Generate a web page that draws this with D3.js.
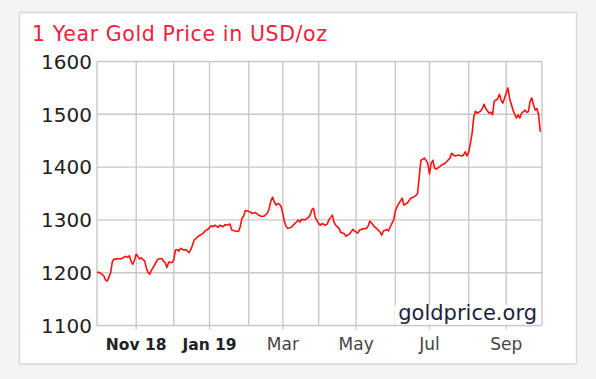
<!DOCTYPE html>
<html><head><meta charset="utf-8">
<script src="https://cdn.jsdelivr.net/npm/d3@7"></script>
<style>
html,body{margin:0;padding:0;background:#f4f4f4;}
svg{display:block;font-family:"DejaVu Sans",Verdana,sans-serif;}
</style></head><body>
<svg id="c" width="596" height="379"></svg>
<script>
// trading-day offset from 1 Oct 2018 and gold price (USD/oz)
const tradingDay = [0,1,2,4,5,6,7,8,9,10,11,12,14,15,17,18,19,20,21,22,23,24,25,26,28,29,30,31,32,34,35,36,38,39,40,41,42,44,45,46,47,48,49,51,52,54,55,56,57,59,60,62,64,65,67,68,69,71,72,74,75,76,78,79,81,83,84,85,86,87,88,90,91,93,94,96,98,100,101,102,103,104,105,106,107,108,109,110,111,112,114,116,117,118,119,120,122,124,125,126,127,128,130,131,132,134,135,136,138,139,140,142,143,145,146,148,149,150,151,153,154,156,158,159,160,161,163,164,166,167,168,170,171,172,174,175,176,177,179,180,182,184,186,187,188,189,190,192,193,194,195,196,197,198,199,201,202,204,205,207,208,209,210,212,214,215,216,217,218,219,220,221,222,223,225,226,227,228,230,231,232,233,235,236,237,238,240,241,242,244,245,246,247,248,249,251,252,253,254,255,256,257,258,259,260];
const price = [1200,1201,1199,1194,1186,1184,1192,1200,1221,1226,1225,1227,1226,1228,1231,1229,1232,1221,1216,1224,1235,1231,1226,1228,1222,1208,1200,1197,1205,1216,1222,1226,1227,1222,1219,1210,1220,1219,1224,1243,1244,1241,1246,1243,1244,1238,1244,1252,1262,1268,1270,1274,1281,1282,1289,1287,1290,1286,1290,1287,1291,1290,1292,1281,1279,1278,1287,1303,1307,1318,1317,1315,1312,1314,1311,1307,1307,1313,1322,1336,1343,1334,1328,1331,1330,1325,1312,1296,1287,1284,1286,1293,1296,1300,1296,1301,1300,1305,1309,1319,1322,1305,1293,1290,1293,1290,1292,1300,1309,1296,1290,1284,1276,1274,1269,1273,1277,1282,1279,1275,1281,1283,1284,1288,1298,1294,1286,1284,1277,1271,1279,1282,1279,1287,1300,1317,1325,1331,1341,1328,1332,1341,1344,1346,1350,1382,1413,1417,1413,1407,1387,1407,1413,1398,1396,1401,1404,1407,1410,1417,1426,1423,1421,1423,1421,1423,1429,1421,1429,1445,1464,1495,1506,1502,1506,1511,1519,1511,1502,1504,1499,1525,1529,1538,1527,1521,1540,1550,1530,1508,1500,1493,1499,1493,1502,1508,1504,1505,1524,1531,1518,1508,1511,1499,1467];
const yTicks = [1100,1200,1300,1400,1500,1600];
const monthStartDay = [23,45,66,89,109,130,152,175,195,218,240];
const monthLabel = ["Nov 18","","Jan 19","","Mar","","May","","Jul","","Sep"];
const totalDays = 261;
const title = "1 Year Gold Price in USD/oz";
const credit = "goldprice.org";

const svg = d3.select("#c");
const m = {l:97, r:542, t:61.5, b:325.5};
const gridColor = "#c8c8c8";

svg.append("rect").attr("x",19.5).attr("y",12.5).attr("width",557).attr("height",351.5)
  .attr("fill","#fff").attr("stroke","#d9d9d9").attr("stroke-width",1.5);

const x = d3.scaleLinear().domain([0,totalDays]).range([m.l,m.r]);
const y = d3.scaleLinear().domain([1100,1600]).range([m.b,m.t]);

const g = svg.append("g");
g.selectAll("line.h").data(yTicks).join("line").attr("class","h")
  .attr("x1",m.l).attr("x2",m.r).attr("y1",d=>y(d)).attr("y2",d=>y(d))
  .attr("stroke",gridColor).attr("stroke-width",1.4);
g.selectAll("line.v").data([0,...monthStartDay,totalDays]).join("line").attr("class","v")
  .attr("x1",d=>x(d)).attr("x2",d=>x(d)).attr("y1",m.t).attr("y2",m.b)
  .attr("stroke",gridColor).attr("stroke-width",1.4);
const labelled = monthStartDay.map((d,i)=>({d,l:monthLabel[i]})).filter(o=>o.l);
g.selectAll("line.t").data(labelled).join("line").attr("class","t")
  .attr("x1",o=>x(o.d)).attr("x2",o=>x(o.d)).attr("y1",m.b).attr("y2",m.b+4)
  .attr("stroke",gridColor).attr("stroke-width",1.4);

g.selectAll("text.y").data(yTicks).join("text").attr("class","y")
  .attr("x",92).attr("y",d=>y(d)).attr("dy","0.36em").attr("text-anchor","end")
  .attr("font-size",20).attr("fill","#1e1e1e").text(d=>d);

g.selectAll("text.m").data(labelled).join("text").attr("class","m")
  .attr("x",o=>x(o.d)).attr("y",350).attr("text-anchor","middle")
  .attr("font-size",o=>/\d/.test(o.l)?15.5:17)
  .attr("font-weight",o=>/\d/.test(o.l)?"bold":"normal")
  .attr("fill",o=>/\d/.test(o.l)?"#222":"#444").text(o=>o.l);

svg.append("rect").attr("x",395).attr("y",305).attr("width",145).attr("height",19.5).attr("fill","#fff");
svg.append("text").attr("x",537).attr("y",320).attr("text-anchor","end")
  .attr("font-size",21).attr("fill","#1c2240").text(credit);

svg.append("text").attr("x",32).attr("y",41).attr("font-size",20.5)
  .attr("textLength",295).attr("lengthAdjust","spacing")
  .attr("fill","#f0203a").text(title);

const line = d3.line().x(i=>x(tradingDay[i])).y(i=>y(price[i]));
svg.append("path").attr("d",line(d3.range(price.length)))
  .attr("fill","none").attr("stroke","#ff1010").attr("stroke-width",1.6).attr("stroke-linejoin","round");
</script>
</body></html>
